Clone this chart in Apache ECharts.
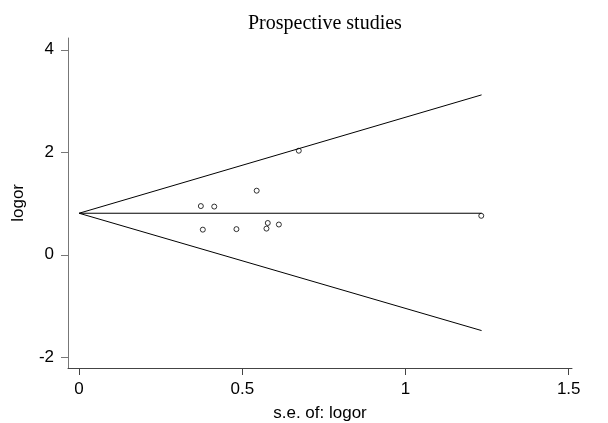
<!DOCTYPE html>
<html><head><meta charset="utf-8">
<script src="https://cdn.jsdelivr.net/npm/echarts@6/dist/echarts.min.js"></script>
<style>html,body{margin:0;padding:0;background:#fff}#c{width:608px;height:423px}</style>
</head><body><div id="c"></div>
<script>
var seValues = [0.673, 0.544, 0.373, 0.414, 0.379, 0.482, 0.578, 0.574, 0.612, 1.232];
var logorValues = [2.03, 1.25, 0.95, 0.94, 0.49, 0.50, 0.62, 0.51, 0.59, 0.76];
var upperLine = [[0, 0.81], [1.233, 3.12]];
var centerLine = [[0, 0.81], [1.233, 0.81]];
var lowerLine = [[0, 0.81], [1.233, -1.48]];
var xTicks = [0, 0.5, 1, 1.5];
var yTicks = [-2, 0, 2, 4];

var points = seValues.map(function (s, i) { return [s, logorValues[i]]; });
var chart = echarts.init(document.getElementById('c'));
var lineStyle = { color: '#000', width: 1 };
chart.setOption({
  animation: false,
  title: { text: 'Prospective studies', left: 243, top: 9,
    textStyle: { fontFamily: 'Liberation Serif', fontSize: 20, fontWeight: 'normal', color: '#000' } },
  grid: { left: 68, right: 36, top: 38, bottom: 55, outerBoundsMode: 'none', containLabel: false },
  xAxis: { type: 'value', min: -0.034, max: 1.51,
    name: 's.e. of: logor', nameLocation: 'middle', nameGap: 37,
    nameTextStyle: { fontFamily: 'Liberation Sans', fontSize: 17, color: '#000' },
    splitLine: { show: false },
    axisLine: { onZero: false, lineStyle: { color: '#444', width: 1 } },
    axisTick: { length: 7, customValues: xTicks, lineStyle: { color: '#444' } },
    axisLabel: { customValues: xTicks, fontFamily: 'Liberation Sans', fontSize: 17, color: '#000', margin: 13 } },
  yAxis: { type: 'value', min: -2.21, max: 4.23,
    splitLine: { show: false },
    axisLine: { show: true, onZero: false, lineStyle: { color: '#777', width: 1 } },
    axisTick: { show: true, length: 7, customValues: yTicks, lineStyle: { color: '#777' } },
    axisLabel: { customValues: yTicks, fontFamily: 'Liberation Sans', fontSize: 17, color: '#000', margin: 14 } },
  graphic: [{ type: 'text', left: 10, top: 184, rotation: Math.PI / 2,
    style: { text: 'logor', fontFamily: 'Liberation Sans', fontSize: 17, fill: '#000' } }],
  series: [
    { type: 'line', data: upperLine, symbol: 'none', lineStyle: lineStyle },
    { type: 'line', data: centerLine, symbol: 'none', lineStyle: lineStyle },
    { type: 'line', data: lowerLine, symbol: 'none', lineStyle: lineStyle },
    { type: 'scatter', data: points, symbol: 'circle', symbolSize: 5,
      itemStyle: { color: '#fff', borderColor: '#000', borderWidth: 1 } }
  ]
});
</script></body></html>
